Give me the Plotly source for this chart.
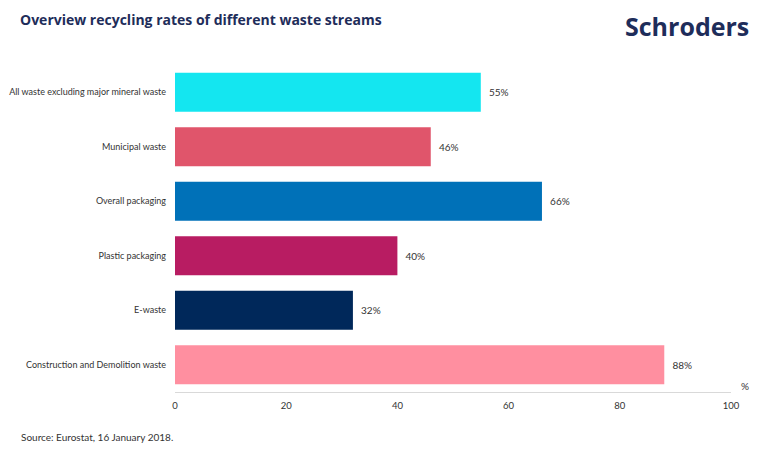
import plotly.graph_objects as go

categories = [
    "All waste excluding major mineral waste",
    "Municipal waste",
    "Overall packaging",
    "Plastic packaging",
    "E-waste",
    "Construction and Demolition waste",
]
rates = [55, 46, 66, 40, 32, 88]
bar_colors = ["#14E6F0", "#E0556B", "#0071B8", "#B81C62", "#00285A", "#FF8FA0"]
tick_vals = [0, 20, 40, 60, 80, 100]

NAVY = "#1E2D5A"
TEXT = "#333333"
FONT = "Lato, sans-serif"

# the page puts the figure 8px in from the window corner, so the figure is
# sized to the part of the window that is visible
W, H = 762, 442

fig = go.Figure()
fig.add_trace(go.Bar(
    x=rates, y=categories, orientation="h",
    marker=dict(color=bar_colors, line=dict(width=0)),
    width=0.72,
    text=[f"  {v}%" for v in rates], textposition="outside",
    textfont=dict(family=FONT, size=10, color=TEXT),
    cliponaxis=False, showlegend=False,
))

fig.update_layout(
    width=W, height=H,
    paper_bgcolor="white", plot_bgcolor="white",
    margin=dict(l=167, r=39, t=57, b=58),
    font=dict(family=FONT, size=10, color=TEXT),
    title=dict(text="<b>Overview recycling rates of different waste streams</b>",
               x=12 / W, xanchor="left", y=1 - 12 / H, yanchor="middle",
               font=dict(family="Open Sans, sans-serif", size=14, color=NAVY)),
    xaxis=dict(range=[0, 100], tickvals=tick_vals, showgrid=False, zeroline=False,
               showline=True, linecolor="#D9D9D9", linewidth=1, automargin=False,
               ticks="", ticklabelstandoff=5, tickfont=dict(size=9.5, color=TEXT)),
    yaxis=dict(autorange="reversed", showgrid=False, zeroline=False, showline=False,
               automargin=False,
               ticks="", ticklabelstandoff=8, tickfont=dict(size=9, color=TEXT)),
)

# unit label at the end of the value axis
fig.add_annotation(text="%", x=1.0, xref="paper", xanchor="left", xshift=8,
                   y=0, yref="paper", yanchor="bottom", yshift=-2,
                   showarrow=False, font=dict(size=10, color=TEXT))
fig.add_annotation(text="Source: Eurostat, 16 January 2018.",
                   x=0, xref="paper", xanchor="left", xshift=-156,
                   y=0, yref="paper", yanchor="middle", yshift=-45,
                   showarrow=False, font=dict(size=10, color=TEXT))
fig.add_annotation(text="<b>Schroders</b>",
                   x=1.0, xref="paper", xanchor="right", xshift=20,
                   y=1.119, yref="paper", yanchor="middle",
                   showarrow=False,
                   font=dict(family="Open Sans, sans-serif", size=25, color=NAVY))

fig.write_html("out.html")
